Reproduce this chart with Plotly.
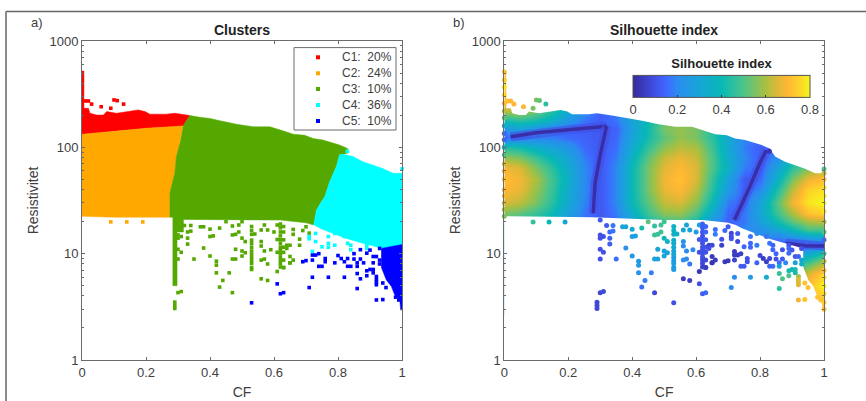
import plotly.graph_objects as go

NB = "\u00a0"
# ---- cluster outlines (CF, resistivity)
c1_cf = [-0.005, 0.006, 0.006, 0.02, 0.025, 0.046, 0.067, 0.077, 0.108, 0.14, 0.176, 0.197, 0.212, 0.264, 0.29, 0.337, 0.322, 0.316, 0.2, 0.1, -0.005]
c1_r = [522, 522, 233, 233, 209, 201, 201, 217, 209, 217, 225, 217, 205, 205, 209, 199, 170, 159, 151, 142, 132]
c2_cf = [-0.005, 0.1, 0.2, 0.316, 0.306, 0.295, 0.29, 0.283, 0.275, 0.275, 0.2, 0.1, -0.005]
c2_r = [132, 142, 151, 159, 109, 82, 57, 46, 37.5, 22, 22, 22, 22.5]
c3_cf = [0.316, 0.337, 0.368, 0.40, 0.431, 0.483, 0.535, 0.587, 0.628, 0.66, 0.696, 0.722, 0.753, 0.805, 0.83, 0.83, 0.805, 0.795, 0.774, 0.759, 0.748, 0.733, 0.724, 0.70, 0.62, 0.50, 0.317, 0.317, 0.297, 0.297, 0.284, 0.284, 0.275, 0.275, 0.283, 0.29, 0.295, 0.306]
c3_r = [159, 199, 192, 187, 178, 165, 156, 156, 143, 133, 130, 121, 117, 105, 97.5, 88, 85, 66, 47.5, 34.4, 30.8, 25.8, 18.6, 19.5, 20.7, 20.7, 21, 16, 16, 5, 5, 22, 22, 37.5, 46, 57, 82, 109]
c4_cf = [0.724, 0.733, 0.748, 0.759, 0.774, 0.795, 0.805, 0.816, 0.847, 0.878, 0.91, 0.941, 0.972, 1.007, 1.007, 0.941, 0.878, 0.826, 0.785, 0.743]
c4_r = [18.6, 25.8, 30.8, 34.4, 47.5, 66, 85, 86, 82, 73, 68, 63, 57, 57, 12.3, 11.2, 12.5, 13.9, 15.5, 17.3]
c5_cf = [0.935, 1.007, 1.007, 0.996, 0.993, 0.977, 0.967, 0.951, 0.935]
c5_r = [11.2, 12.3, 2.95, 2.95, 3.67, 4.1, 4.9, 5.65, 7.5]

# ---- data envelope, used to trim the silhouette field in panel b
top_cf = [-0.02, 0.006, 0.006, 0.02, 0.025, 0.046, 0.067, 0.077, 0.108, 0.14, 0.176, 0.197, 0.212, 0.264, 0.29, 0.337, 0.368, 0.40, 0.431, 0.483, 0.535, 0.587, 0.628, 0.66, 0.696, 0.722, 0.753, 0.805, 0.83, 0.847, 0.878, 0.91, 0.941, 0.972, 1.02]
top_r = [522, 522, 233, 233, 209, 201, 201, 217, 209, 217, 225, 217, 205, 205, 209, 199, 192, 187, 178, 165, 156, 156, 143, 133, 130, 121, 117, 105, 97.5, 82, 73, 68, 63, 57, 57]
bot_cf = [-0.02, 0.275, 0.50, 0.62, 0.70, 0.724, 0.743, 0.785, 0.826, 0.878, 0.935, 0.935, 0.951, 0.967, 0.977, 0.993, 0.996, 1.02]
bot_r = [22.5, 22, 20.7, 20.7, 19.5, 18.6, 17.3, 15.5, 13.9, 12.5, 11.2, 7.5, 5.65, 4.9, 4.1, 3.67, 2.95, 2.95]

# ---- isolated points: CF, resistivity, silhouette
p1_cf = [0.01, 0.02, 0.03, 0.06, 0.09, 0.10, 0.11, 0.13]
p1_r = [273, 273, 255, 241, 233, 279, 275, 255]
p1_s = [0.72, 0.70, 0.70, 0.70, 0.55, 0.55, 0.52, 0.45]
p2_cf = [0.09, 0.14, 0.19]
p2_r = [19.9, 19.9, 19.9]
p2_s = [0.46, 0.40, 0.30]
p3_cf = [0.30, 0.32, 0.34, 0.30, 0.31, 0.33, 0.34, 0.30, 0.33, 0.33, 0.30, 0.31, 0.30, 0.35, 0.38, 0.40, 0.42, 0.42, 0.42, 0.44, 0.43, 0.47, 0.46, 0.47, 0.48, 0.48, 0.50, 0.51, 0.50, 0.37, 0.38, 0.40, 0.40, 0.41, 0.43, 0.45, 0.47, 0.47, 0.48, 0.49, 0.49, 0.50, 0.50, 0.51, 0.53, 0.53, 0.53, 0.53, 0.53, 0.53, 0.53, 0.53, 0.53, 0.53, 0.53, 0.53, 0.53, 0.54, 0.56, 0.56, 0.57, 0.59, 0.56, 0.57, 0.58, 0.61, 0.56, 0.58, 0.56, 0.58, 0.60, 0.61, 0.57, 0.62, 0.62, 0.62, 0.62, 0.62, 0.62, 0.62, 0.62, 0.62, 0.62, 0.62, 0.62, 0.62, 0.63, 0.63, 0.63, 0.63, 0.63, 0.63, 0.63, 0.61, 0.61, 0.64, 0.65, 0.65, 0.63, 0.29, 0.29, 0.29, 0.30, 0.31, 0.66, 0.68, 0.69, 0.65, 0.64, 0.66, 0.65, 0.66, 0.68, 0.70, 0.71]
p3_r = [20.7, 18.4, 18.4, 15, 14.5, 16, 16.3, 14, 14, 12.3, 11, 10.3, 8.9, 8.9, 11.3, 9.5, 8.5, 7.8, 6.6, 5.6, 4.85, 4.3, 6.6, 8.9, 8.9, 11, 10.6, 10.2, 9.5, 17.9, 17.9, 17, 14.5, 14.7, 17.4, 20, 18.2, 15, 15.2, 16, 18.6, 20, 14, 13, 18, 16.5, 15.2, 13.4, 12.5, 11.5, 10.6, 9.9, 9.2, 8.6, 8.1, 7.4, 7.1, 15.3, 13, 11.8, 10.6, 10.9, 8.7, 8.9, 8, 6.8, 5.8, 5.6, 16.7, 16.7, 16, 18.6, 18.6, 19, 17.5, 16, 14.7, 13.5, 12.5, 11.5, 10.8, 10, 9.3, 8.7, 8.1, 7.5, 18, 16, 13.5, 11.5, 10.3, 8.7, 7.4, 13.6, 10.3, 12, 9.4, 8.2, 7.4, 3.5, 3.25, 3.05, 4.3, 4.4, 15.2, 13.7, 16.5, 12, 11.2, 8.7, 8.2, 16.9, 12, 17.9, 15.6]
p3_s = [0.12, 0.12, 0.17, 0.1, 0.1, 0.15, 0.17, 0.1, 0.13, 0.13, 0.1, 0.1, 0.1, 0.16, 0.22, 0.24, 0.25, 0.25, 0.22, 0.18, 0.16, 0.08, 0.18, 0.3, 0.28, 0.3, 0.3, 0.28, 0.3, 0.3, 0.3, 0.33, 0.27, 0.28, 0.42, 0.52, 0.46, 0.47, 0.47, 0.48, 0.48, 0.48, 0.4, 0.35, 0.36, 0.36, 0.36, 0.34, 0.33, 0.31, 0.3, 0.3, 0.28, 0.28, 0.27, 0.26, 0.26, 0.35, 0.22, 0.2, 0.2, 0.2, 0.2, 0.2, 0.17, 0.03, 0.05, 0.05, 0.3, 0.3, 0.25, 0.3, 0.3, 0.13, 0.12, 0.11, 0.1, 0.1, 0.1, 0.1, 0.1, 0.1, 0.1, 0.08, 0.08, 0.06, 0.15, 0.14, 0.12, 0.1, 0.1, 0.08, 0.05, 0.12, 0.1, 0.06, 0.04, 0.02, 0.05, 0.08, 0.08, 0.08, 0.08, 0.08, 0.18, 0.1, 0.15, 0.08, 0.1, 0.05, 0.03, 0.16, 0.06, 0.12, 0.08]
p4_cf = [0.71, 0.71, 0.73, 0.73, 0.75, 0.77, 0.77, 0.77, 0.79, 0.72, 0.79, 0.82, 0.83, 0.84, 0.84, 0.86, 0.89, 0.89, 0.829, 1.0]
p4_r = [13.8, 14.5, 15.5, 13, 11.6, 12.5, 11.5, 14.5, 12, 10.5, 15.5, 14.5, 12.5, 12, 10.9, 14.8, 12, 11.2, 92, 62.6]
p4_s = [0.12, 0.1, 0.12, 0.08, 0.15, 0.15, 0.15, 0.17, 0.18, 0.05, 0.2, 0.17, 0.17, 0.14, 0.15, 0.2, 0.12, 0.15, 0.03, 0.5]
p5_cf = [0.69, 0.70, 0.72, 0.72, 0.73, 0.74, 0.76, 0.76, 0.74, 0.75, 0.79, 0.80, 0.81, 0.82, 0.83, 0.83, 0.84, 0.85, 0.85, 0.86, 0.87, 0.87, 0.88, 0.89, 0.90, 0.91, 0.91, 0.92, 0.93, 0.93, 0.93, 0.90, 0.91, 0.89, 0.86, 0.89, 0.87, 0.72, 0.77, 0.82, 0.71, 0.86, 0.92, 0.92, 0.92, 0.92, 0.92, 0.94, 0.94, 0.95, 0.61, 0.62, 0.63, 0.53, 0.98, 0.99, 0.86, 0.91]
p5_r = [8.4, 8.6, 8.7, 9.7, 9.7, 10, 9, 8.4, 7.6, 7.6, 8.2, 9.6, 9, 8.4, 9, 7.6, 7.6, 10, 8.9, 8.2, 10.9, 8.9, 8.2, 10.1, 10.8, 9.4, 8.2, 9.4, 11.2, 8.7, 8, 7.1, 7.1, 6.9, 6.5, 6.2, 5.8, 6, 6, 6, 4.8, 4.7, 6.1, 5.7, 5.4, 5.1, 3.67, 3.7, 5.3, 4.8, 5.2, 4.2, 4.3, 3.45, 3.9, 3.67, 7.6, 6.6]
p5_s = [0.04, 0.04, 0.07, 0.05, 0.05, 0.06, 0.1, 0.1, 0.12, 0.12, 0.14, 0.08, 0.05, 0.05, 0.08, 0.14, 0.16, 0.14, 0.1, 0.16, 0.1, 0.12, 0.2, 0.15, 0.12, 0.12, 0.28, 0.13, 0.1, 0.3, 0.35, 0.4, 0.42, 0.42, 0.47, 0.5, 0.5, 0.2, 0.25, 0.33, 0.2, 0.45, 0.6, 0.66, 0.66, 0.66, 0.68, 0.72, 0.72, 0.72, 0.1, 0.13, 0.15, 0.1, 0.72, 0.72, 0.28, 0.42]

# ---- silhouette field
field_cf = [0, 0.05, 0.10, 0.15, 0.20, 0.25, 0.30, 0.35, 0.40, 0.45, 0.50, 0.55, 0.60, 0.65, 0.70, 0.75, 0.80, 0.85, 0.90, 0.95, 1.0]
field_r = [3, 4, 5, 6.5, 8, 10, 12, 14, 17, 20, 24, 30, 40, 50, 65, 80, 100, 125, 150, 180, 220, 300, 520]
field_s = [
 [.2, .2, .2, .2, .2, .2, .2, .2, .2, .2, .2, .2, .2, .2, .2, .2, .2, .3, .5, .72, .70],
 [.2, .2, .2, .2, .2, .2, .2, .2, .2, .2, .2, .2, .2, .2, .2, .2, .2, .3, .5, .72, .75],
 [.2, .2, .2, .2, .2, .2, .2, .2, .2, .2, .2, .2, .2, .2, .2, .2, .2, .3, .5, .72, .80],
 [.2, .2, .2, .2, .2, .2, .2, .2, .2, .2, .2, .2, .2, .2, .2, .2, .2, .3, .5, .65, .75],
 [.2, .2, .2, .2, .2, .2, .2, .2, .2, .2, .2, .2, .2, .2, .2, .2, .2, .3, .4, .50, .62],
 [.2, .2, .2, .2, .2, .2, .2, .2, .2, .2, .2, .2, .2, .2, .2, .2, .2, .2, .2, .33, .42],
 [.2, .2, .2, .2, .2, .2, .2, .2, .2, .2, .2, .2, .2, .2, .2, .2, .14, .12, .12, .12, .12],
 [.3, .3, .3, .3, .3, .3, .3, .3, .3, .3, .3, .3, .3, .3, .2, .2, .2, .17, .2, .25, .30],
 [.4, .4, .4, .3, .3, .2, .14, .2, .3, .4, .4, .4, .4, .3, .14, .2, .22, .3, .4, .5, .50],
 [.50, .45, .42, .35, .25, .16, .12, .16, .30, .42, .48, .50, .42, .24, .14, .17, .28, .40, .52, .60, .62],
 [.55, .52, .47, .40, .28, .17, .12, .18, .35, .48, .57, .58, .50, .32, .14, .17, .30, .47, .60, .72, .75],
 [.65, .62, .55, .45, .32, .19, .12, .20, .40, .52, .63, .65, .57, .40, .17, .15, .30, .50, .68, .78, .80],
 [.70, .67, .58, .47, .33, .20, .12, .20, .40, .55, .67, .70, .62, .45, .25, .13, .20, .42, .62, .75, .77],
 [.72, .68, .60, .48, .35, .20, .12, .20, .40, .55, .68, .72, .65, .47, .28, .12, .15, .35, .55, .68, .72],
 [.68, .65, .55, .45, .33, .20, .12, .20, .40, .55, .66, .70, .65, .50, .35, .18, .13, .28, .45, .55, .62],
 [.58, .55, .47, .38, .30, .18, .12, .18, .37, .52, .63, .67, .63, .50, .33, .20, .13, .20, .40, .50, .60],
 [.45, .42, .35, .30, .24, .15, .12, .16, .33, .47, .57, .62, .60, .48, .32, .18, .13, .16, .40, .50, .60],
 [.15, .15, .18, .18, .15, .14, .12, .15, .30, .42, .52, .58, .55, .45, .32, .20, .15, .25, .40, .50, .60],
 [.25, .30, .25, .18, .15, .13, .12, .14, .28, .42, .55, .58, .55, .45, .30, .20, .20, .30, .40, .50, .60],
 [.42, .45, .42, .35, .25, .17, .13, .17, .30, .40, .52, .55, .55, .45, .30, .20, .20, .30, .40, .50, .60],
 [.62, .62, .55, .45, .32, .22, .14, .18, .28, .40, .52, .55, .55, .45, .30, .20, .20, .30, .40, .50, .60],
 [.72, .68, .55, .45, .40, .30, .20, .20, .30, .40, .50, .55, .50, .40, .30, .20, .20, .30, .40, .50, .60],
 [.72, .72, .72, .72, .72, .72, .72, .72, .72, .72, .72, .72, .72, .72, .72, .72, .72, .72, .72, .72, .72],
]
# dark ridges between clusters
ridge_a_cf = [0.02, 0.10, 0.20, 0.32]
ridge_a_r = [126, 137, 146, 158]
ridge_b_cf = [0.32, 0.30, 0.284, 0.278]
ridge_b_r = [158, 85, 46, 24]
ridge_c_cf = [0.82, 0.80, 0.768, 0.72]
ridge_c_r = [94, 72, 42.7, 20.7]
ridge_d_cf = [0.88, 0.94, 1.0]
ridge_d_r = [12.5, 11.9, 11.8]
# left and right edge columns of panel b
edge0_r = [22.5, 26, 30, 35, 40, 50, 60, 70, 85, 100, 118, 135, 160, 190, 220, 260, 310, 370, 430, 510]
edge0_s = [.55, .60, .65, .68, .70, .72, .70, .66, .50, .40, .14, .15, .35, .52, .62, .70, .76, .78, .74, .72]
edge1_r = [57, 50, 42, 35, 30, 25, 20, 16, 13.5, 10, 8.5, 7, 6, 5, 4.2, 3.5, 3]
edge1_s = [.62, .72, .76, .78, .80, .77, .62, .50, .15, .45, .60, .72, .78, .80, .76, .74, .72]

cluster_names = ["C1:" + NB*2 + "20%", "C2:" + NB*2 + "24%", "C3:" + NB*2 + "10%", "C4:" + NB*2 + "36%", "C5:" + NB*2 + "10%"]
cluster_colors = ["#ff0000", "#ffa800", "#55a800", "#00ffff", "#0000ff"]
x_ticks = [0, 0.2, 0.4, 0.6, 0.8, 1]
x_labels = ["0", "0.2", "0.4", "0.6", "0.8", "1"]

parula = [[0, "#352a9c"], [0.125, "#4150e6"], [0.19, "#3e68ff"], [0.25, "#2b8cf0"], [0.375, "#17a5d8"], [0.5, "#08b9b5"],
          [0.625, "#4cc48a"], [0.75, "#a9c040"], [0.8125, "#dbb838"], [0.875, "#ffb733"], [0.94, "#fcd32a"], [1, "#f7f71a"]]

W, H = 866, 401
TXT = "#404040"
AX = "#6b6b6b"
FONT = "Liberation Sans"

fig = go.Figure()

outlines = [(c1_cf, c1_r), (c2_cf, c2_r), (c3_cf, c3_r), (c4_cf, c4_r), (c5_cf, c5_r)]
for (cx, cy), col in zip(outlines, cluster_colors):
    fig.add_trace(go.Scatter(x=cx, y=cy, mode="lines", fill="toself", fillcolor=col, line=dict(color=col, width=0.5),
                             showlegend=False, hoverinfo="skip", xaxis="x", yaxis="y", cliponaxis=False))
points = [(p1_cf, p1_r, p1_s), (p2_cf, p2_r, p2_s), (p3_cf, p3_r, p3_s), (p4_cf, p4_r, p4_s), (p5_cf, p5_r, p5_s)]
for (px, py, _), col, name in zip(points, cluster_colors, cluster_names):
    fig.add_trace(go.Scatter(x=px, y=py, mode="markers", name=name, showlegend=False, marker=dict(symbol="square", size=3.6, color=col, line=dict(width=0)),
                             xaxis="x", yaxis="y", cliponaxis=False))

# panel b
fig.add_trace(go.Heatmap(x=field_cf, y=field_r, z=field_s, zsmooth="best", coloraxis="coloraxis", xaxis="x2", yaxis="y2", showscale=True))
for rx, ry in [(ridge_a_cf, ridge_a_r), (ridge_b_cf, ridge_b_r), (ridge_c_cf, ridge_c_r), (ridge_d_cf, ridge_d_r)]:
    fig.add_trace(go.Scatter(x=rx, y=ry, mode="lines", line=dict(color="#4150e6", width=9), opacity=0.6, showlegend=False, xaxis="x2", yaxis="y2"))
    fig.add_trace(go.Scatter(x=rx, y=ry, mode="lines", line=dict(color="#3a2ea8", width=3.5), showlegend=False, xaxis="x2", yaxis="y2"))
fig.add_trace(go.Scatter(x=top_cf + [1.02, -0.02], y=top_r + [1200, 1200], mode="lines", fill="toself", fillcolor="white",
                         line=dict(width=0, color="white"), showlegend=False, xaxis="x2", yaxis="y2"))
fig.add_trace(go.Scatter(x=bot_cf + [1.02, -0.02], y=bot_r + [0.9, 0.9], mode="lines", fill="toself", fillcolor="white",
                         line=dict(width=0, color="white"), showlegend=False, xaxis="x2", yaxis="y2"))
edge_cf = [0.0] * len(edge0_r) + [1.0] * len(edge1_r)
fig.add_trace(go.Scatter(x=edge_cf, y=edge0_r + edge1_r, mode="markers", showlegend=False, cliponaxis=False, xaxis="x2", yaxis="y2",
                         marker=dict(size=5, color=edge0_s + edge1_s, coloraxis="coloraxis", line=dict(width=0))))
for px, py, ps in points:
    fig.add_trace(go.Scatter(x=px, y=py, mode="markers", showlegend=False, cliponaxis=False, xaxis="x2", yaxis="y2",
                             marker=dict(size=5, color=ps, coloraxis="coloraxis", line=dict(width=0))))

common_x = dict(range=[0, 1], tickvals=x_ticks, ticktext=x_labels, ticks="inside", ticklen=3, tickcolor=AX, showline=True, linecolor=AX, linewidth=1,
                mirror="allticks", showgrid=False, zeroline=False, tickfont=dict(size=13, color=TXT, family=FONT), layer="above traces")
common_y = dict(type="log", range=[0, 3], dtick=1, ticks="inside", ticklen=3, tickcolor=AX, showline=True, linecolor=AX, linewidth=1,
                mirror="allticks", showgrid=False, zeroline=False, tickfont=dict(size=13, color=TXT, family=FONT), layer="above traces",
                minor=dict(ticks="inside", ticklen=2, tickcolor=AX, showgrid=False), domain=[1 - 360 / H, 1 - 41 / H])
xt = dict(text="CF", font=dict(size=14, color=TXT, family=FONT), standoff=8)
yt = dict(text="Resistivitet", font=dict(size=14, color=TXT, family=FONT), standoff=7)

annos = [
    dict(text="a)", x=29 / W, y=1 - 22 / H, xref="paper", yref="paper", xanchor="left", yanchor="middle", showarrow=False, font=dict(size=13, color=TXT, family=FONT)),
    dict(text="b)", x=451 / W, y=1 - 22 / H, xref="paper", yref="paper", xanchor="left", yanchor="middle", showarrow=False, font=dict(size=13, color=TXT, family=FONT)),
    dict(text="<b>Clusters</b>", x=242 / W, y=1 - 30 / H, xref="paper", yref="paper", xanchor="center", yanchor="middle", showarrow=False, font=dict(size=14, color="#222222", family=FONT)),
    dict(text="<b>Silhouette index</b>", x=664 / W, y=1 - 30 / H, xref="paper", yref="paper", xanchor="center", yanchor="middle", showarrow=False, font=dict(size=14, color="#222222", family=FONT)),
]
shapes = [
    dict(type="line", xref="paper", yref="paper", x0=6 / W, x1=1, y0=1 - 11.5 / H, y1=1 - 11.5 / H, line=dict(color="#666666", width=1.5)),
    dict(type="line", xref="paper", yref="paper", x0=6 / W, x1=6 / W, y0=0, y1=1 - 11.5 / H, line=dict(color="#666666", width=1.5)),
    dict(type="rect", xref="paper", yref="paper", x0=294 / W, x1=396 / W, y0=1 - 130 / H, y1=1 - 47.6 / H, line=dict(color=AX, width=1), fillcolor="white"),
]
legend_y = [57.3, 73.3, 89, 105, 121]
for ly, name, col in zip(legend_y, cluster_names, cluster_colors):
    annos.append(dict(text=name, x=340 / W, y=1 - ly / H, xref="paper", yref="paper", xanchor="left", yanchor="middle", showarrow=False,
                      font=dict(size=12, color=TXT, family=FONT)))
    shapes.append(dict(type="rect", xref="paper", yref="paper", x0=316 / W, x1=320 / W, y0=1 - (ly + 2) / H, y1=1 - (ly - 2) / H, line=dict(width=0), fillcolor=col))

fig.update_layout(
    width=W, height=H, autosize=False, showlegend=False, margin=dict(l=0, r=0, t=0, b=0, pad=0, autoexpand=False), paper_bgcolor="white", plot_bgcolor="white",
    font=dict(family=FONT, color=TXT),
    xaxis=dict(domain=[82 / W, 402 / W], anchor="y", title=xt, **common_x),
    yaxis=dict(anchor="x", title=yt, **common_y),
    xaxis2=dict(domain=[504.3 / W, 824 / W], anchor="y2", title=xt, **common_x),
    yaxis2=dict(anchor="x2", title=yt, **common_y),
    coloraxis=dict(cmin=0, cmax=0.8, colorscale=parula, colorbar=dict(
        orientation="h", x=633 / W, xanchor="left", y=1 - 119.7 / H, yanchor="bottom", thickness=21.7, thicknessmode="pixels",
        len=177, lenmode="pixels", xpad=0, ypad=0, outlinecolor="#555555", outlinewidth=1,
        tickvals=[0, 0.2, 0.4, 0.6, 0.8], ticktext=["0", "0.2", "0.4", "0.6", "0.8"], ticks="inside", ticklen=2, tickcolor="#333333",
        tickfont=dict(size=13, color=TXT, family=FONT),
        title=dict(text="<b>Silhouette index</b>", side="top", font=dict(size=13, color="#222222", family=FONT)))),
    annotations=annos,
    shapes=shapes,
)
fig.write_html("out.html", config={"displayModeBar": False}, post_script="document.body.style.margin='0';document.body.style.overflow='hidden';")
